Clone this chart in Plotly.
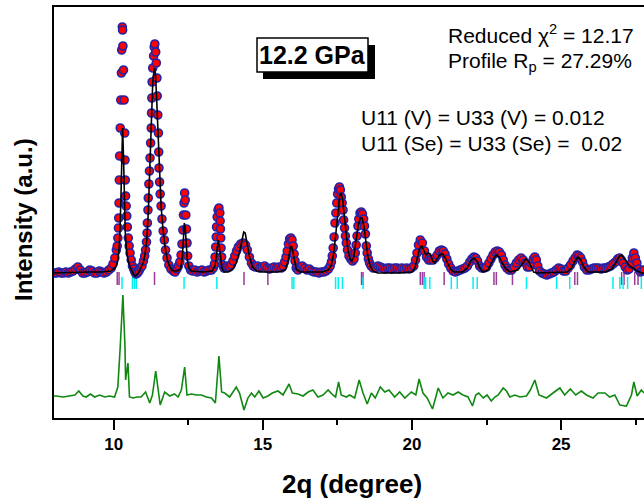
import plotly.graph_objects as go

# ---------------- data ----------------
obs_x = [8.00, 8.08, 8.16, 8.24, 8.32, 8.40, 8.48, 8.56, 8.64, 8.72, 8.80, 8.88, 8.96, 9.04, 9.12, 9.20, 9.28, 9.36, 9.44, 9.52,
         9.60, 9.68, 9.76, 9.84, 9.92, 9.98, 10.04, 10.09, 10.12, 10.14, 10.16, 10.17, 10.18, 10.19, 10.20, 10.22, 10.24, 10.26, 10.27, 10.29,
         10.30, 10.31, 10.33, 10.35, 10.37, 10.38, 10.39, 10.40, 10.42, 10.44, 10.46, 10.49, 10.52, 10.55, 10.59, 10.63, 10.67, 10.71, 10.75, 10.80,
         10.85, 10.90, 10.95, 11.00, 11.04, 11.07, 11.10, 11.12, 11.13, 11.15, 11.16, 11.18, 11.20, 11.22, 11.24, 11.26, 11.27, 11.28, 11.29, 11.31,
         11.34, 11.36, 11.38, 11.41, 11.43, 11.45, 11.46, 11.48, 11.50, 11.51, 11.52, 11.54, 11.56, 11.59, 11.62, 11.66, 11.70, 11.74, 11.79, 11.85,
         11.92, 12.00, 12.06, 12.12, 12.17, 12.22, 12.26, 12.29, 12.32, 12.34, 12.36, 12.38, 12.40, 12.42, 12.44, 12.46, 12.48, 12.52, 12.58, 12.65,
         12.72, 12.80, 12.88, 12.96, 13.04, 13.12, 13.20, 13.28, 13.34, 13.38, 13.40, 13.42, 13.44, 13.45, 13.47, 13.50, 13.53, 13.56, 13.57, 13.58,
         13.59, 13.60, 13.62, 13.65, 13.70, 13.76, 13.82, 13.88, 13.94, 14.00, 14.06, 14.12, 14.18, 14.26, 14.34, 14.42, 14.48, 14.55, 14.62, 14.68,
         14.75, 14.82, 14.90, 14.98, 15.06, 15.14, 15.22, 15.30, 15.38, 15.46, 15.54, 15.62, 15.68, 15.73, 15.78, 15.82, 15.86, 15.90, 15.94, 15.98,
         16.02, 16.05, 16.08, 16.12, 16.18, 16.25, 16.32, 16.40, 16.48, 16.56, 16.64, 16.72, 16.80, 16.88, 16.96, 17.04, 17.12, 17.20, 17.26, 17.30,
         17.33, 17.36, 17.39, 17.42, 17.45, 17.48, 17.51, 17.54, 17.57, 17.60, 17.63, 17.66, 17.69, 17.71, 17.74, 17.77, 17.80, 17.84, 17.89, 17.95,
         18.01, 18.06, 18.10, 18.13, 18.16, 18.19, 18.22, 18.26, 18.30, 18.34, 18.38, 18.41, 18.44, 18.47, 18.50, 18.54, 18.58, 18.63, 18.70, 18.78,
         18.86, 18.94, 19.02, 19.10, 19.18, 19.26, 19.34, 19.42, 19.50, 19.58, 19.66, 19.74, 19.82, 19.90, 19.98, 20.06, 20.12, 20.17, 20.22, 20.28,
         20.35, 20.42, 20.49, 20.56, 20.63, 20.71, 20.78, 20.85, 20.92, 20.99, 21.05, 21.11, 21.17, 21.23, 21.30, 21.38, 21.46, 21.54, 21.62, 21.70,
         21.78, 21.86, 21.94, 22.01, 22.08, 22.14, 22.20, 22.27, 22.34, 22.42, 22.50, 22.58, 22.65, 22.72, 22.79, 22.86, 22.93, 23.00, 23.06, 23.12,
         23.18, 23.26, 23.34, 23.42, 23.50, 23.58, 23.66, 23.73, 23.80, 23.87, 23.94, 24.01, 24.07, 24.12, 24.17, 24.22, 24.28, 24.36, 24.44, 24.52,
         24.60, 24.68, 24.76, 24.84, 24.92, 25.00, 25.08, 25.16, 25.24, 25.32, 25.40, 25.47, 25.54, 25.60, 25.66, 25.72, 25.78, 25.86, 25.94, 26.02,
         26.10, 26.18, 26.26, 26.34, 26.42, 26.50, 26.58, 26.66, 26.74, 26.82, 26.90, 26.96, 27.02, 27.08, 27.15, 27.22, 27.28, 27.34, 27.39, 27.44,
         27.49, 27.54, 27.60, 27.66, 27.72, 27.78]
obs_y = [145, 145, 146, 145, 145, 146, 145, 146, 147, 149, 151, 148, 145, 145, 146, 148, 147, 145, 145, 147,
         146, 145, 146, 148, 150, 154, 160, 168, 172, 180, 190, 200, 215, 238, 262, 290, 318, 345, 368, 391,
         388, 372, 348, 318, 285, 258, 238, 222, 212, 202, 191, 180, 172, 165, 158, 152, 149, 146, 144, 145,
         147, 150, 152, 157, 162, 168, 176, 185, 195, 208, 220, 234, 247, 260, 275, 290, 305, 320, 336, 350,
         362, 371, 374, 366, 355, 340, 322, 303, 285, 266, 250, 236, 224, 212, 199, 187, 178, 168, 160, 153,
         149, 147, 146, 149, 152, 156, 163, 174, 188, 203, 215, 225, 218, 203, 189, 175, 162, 152, 148, 147,
         148, 146, 147, 148, 146, 147, 148, 148, 150, 154, 161, 171, 181, 191, 201, 208, 210, 205, 197, 189,
         180, 170, 161, 153, 150, 151, 152, 151, 153, 157, 162, 167, 171, 174, 175, 173, 168, 161, 155, 152,
         151, 152, 150, 151, 152, 150, 149, 150, 151, 150, 151, 150, 152, 156, 161, 167, 174, 179, 180, 178,
         172, 164, 157, 150, 148, 150, 152, 150, 148, 149, 147, 146, 146, 145, 146, 146, 147, 149, 152, 156,
         162, 170, 181, 195, 205, 215, 224, 229, 231, 228, 221, 215, 208, 198, 190, 182, 175, 168, 162, 159,
         157, 159, 165, 173, 182, 192, 199, 205, 206, 204, 199, 192, 184, 172, 165, 159, 155, 152, 150, 150,
         152, 151, 150, 149, 150, 150, 149, 150, 150, 149, 150, 149, 150, 149, 150, 152, 158, 165, 173, 178,
         175, 167, 161, 158, 158, 158, 160, 163, 167, 168, 167, 164, 159, 154, 150, 147, 146, 147, 148, 149,
         150, 152, 156, 159, 161, 160, 157, 152, 150, 150, 151, 155, 159, 163, 166, 167, 166, 163, 158, 153,
         150, 148, 148, 151, 155, 158, 160, 158, 155, 151, 151, 155, 159, 161, 158, 152, 147, 145, 144, 143,
         144, 145, 146, 148, 150, 149, 147, 147, 150, 153, 157, 160, 163, 162, 160, 156, 151, 148, 148, 149,
         150, 150, 150, 149, 150, 150, 151, 152, 154, 156, 159, 160, 158, 155, 151, 148, 149, 154, 160, 165,
         160, 155, 149, 146, 147, 148]

calc_x = [8.0, 8.8, 9.2, 9.6, 9.9, 10.05, 10.12, 10.17, 10.21, 10.24, 10.27, 10.30, 10.33, 10.36, 10.39, 10.43, 10.48, 10.54, 10.60, 10.66,
          10.72, 10.78, 10.85, 10.92, 11.00, 11.06, 11.11, 11.16, 11.21, 11.26, 11.31, 11.36, 11.40, 11.44, 11.49, 11.54, 11.59, 11.65, 11.72, 11.80,
          11.90, 12.00, 12.15, 12.25, 12.30, 12.34, 12.37, 12.40, 12.43, 12.47, 12.52, 12.60, 13.00, 13.30, 13.40, 13.45, 13.49, 13.51, 13.54, 13.58,
          13.63, 13.70, 13.85, 14.00, 14.12, 14.22, 14.30, 14.36, 14.41, 14.47, 14.55, 14.65, 14.80, 15.00, 15.50, 15.75, 15.85, 15.92, 15.96, 16.00,
          16.05, 16.12, 16.25, 17.00, 17.20, 17.30, 17.38, 17.45, 17.52, 17.58, 17.63, 17.68, 17.73, 17.79, 17.86, 17.93, 17.99, 18.05, 18.12, 18.20,
          18.27, 18.33, 18.39, 18.45, 18.52, 18.60, 18.70, 18.85, 19.50, 20.00, 20.10, 20.18, 20.26, 20.33, 20.40, 20.47, 20.55, 20.62, 20.70, 20.76,
          20.84, 20.93, 21.03, 21.12, 21.22, 21.32, 21.42, 21.70, 21.85, 21.97, 22.08, 22.18, 22.28, 22.38, 22.55, 22.65, 22.75, 22.84, 22.93, 23.03,
          23.15, 23.30, 23.55, 23.70, 23.82, 23.92, 24.00, 24.08, 24.20, 25.20, 25.35, 25.47, 25.57, 25.66, 25.76, 25.90, 26.50, 26.70, 26.85, 26.96,
          27.03, 27.10, 27.20, 27.30, 27.40, 27.55, 27.70, 27.78]
calc_y = [145, 146, 146, 146, 147, 150, 155, 165, 185, 215, 260, 290, 262, 215, 185, 168, 158, 152, 147, 144,
          142, 143, 146, 150, 156, 165, 178, 205, 245, 295, 335, 350, 345, 320, 280, 240, 212, 190, 172, 158,
          150, 147, 147, 150, 160, 180, 195, 190, 175, 158, 150, 147, 146, 147, 152, 162, 175, 178, 172, 160,
          150, 146, 146, 149, 156, 166, 178, 186, 185, 176, 162, 151, 147, 146, 146, 148, 157, 170, 172, 168,
          158, 149, 146, 146, 148, 153, 165, 185, 208, 222, 225, 218, 203, 183, 167, 159, 157, 161, 175, 193,
          200, 200, 192, 177, 162, 152, 147, 145, 145, 146, 150, 160, 170, 172, 168, 163, 165, 164, 157, 155,
          159, 163, 164, 160, 153, 148, 146, 146, 150, 157, 160, 157, 150, 146, 148, 154, 160, 163, 161, 155,
          149, 146, 148, 154, 159, 156, 150, 146, 145, 146, 150, 157, 161, 158, 151, 146, 146, 149, 156, 162,
          163, 160, 155, 152, 150, 147, 145, 145]

diff_x = [8.00, 8.08, 8.31, 8.53, 8.70, 8.83, 8.97, 9.08, 9.22, 9.36, 9.53, 9.70, 9.86, 10.03, 10.14, 10.22, 10.31, 10.38, 10.40, 10.48,
          10.53, 10.65, 10.78, 10.92, 11.07, 11.21, 11.30, 11.41, 11.49, 11.56, 11.71, 11.88, 12.04, 12.16, 12.27, 12.38, 12.46, 12.61, 12.77, 12.94,
          13.11, 13.28, 13.41, 13.53, 13.62, 13.72, 13.89, 13.98, 14.11, 14.22, 14.37, 14.50, 14.62, 14.73, 14.87, 15.01, 15.17, 15.32, 15.51, 15.68,
          15.88, 15.99, 16.18, 16.35, 16.52, 16.68, 16.85, 17.02, 17.19, 17.35, 17.44, 17.54, 17.63, 17.80, 17.91, 18.08, 18.23, 18.36, 18.50, 18.64,
          18.77, 18.94, 19.09, 19.23, 19.42, 19.59, 19.76, 19.98, 20.13, 20.24, 20.37, 20.51, 20.69, 20.80, 20.88, 21.04, 21.21, 21.38, 21.55, 21.71,
          21.88, 22.03, 22.14, 22.24, 22.39, 22.52, 22.66, 22.78, 22.89, 23.06, 23.17, 23.28, 23.45, 23.62, 23.84, 23.97, 24.12, 24.26, 24.51, 24.73,
          24.96, 25.12, 25.31, 25.49, 25.68, 25.85, 26.07, 26.24, 26.47, 26.63, 26.80, 26.97, 27.19, 27.36, 27.44, 27.55, 27.69, 27.78]
diff_y = [22, 22, 21, 22, 23, 27, 22, 21, 24, 21, 23, 21, 22, 21, 31, 71, 123, 71, 38, 55,
          21, 20, 21, 21, 26, 15, 23, 47, 28, 13, 26, 22, 24, 21, 28, 51, 23, 24, 23, 23,
          21, 20, 15, 62, 26, 25, 21, 25, 31, 25, 8, 20, 25, 21, 27, 20, 22, 25, 27, 23,
          34, 25, 24, 22, 26, 28, 21, 23, 28, 23, 21, 36, 23, 21, 23, 20, 38, 25, 14, 25,
          20, 31, 26, 28, 21, 26, 20, 26, 23, 39, 25, 20, 9, 21, 30, 20, 25, 23, 26, 23,
          21, 12, 23, 25, 20, 23, 17, 21, 23, 30, 27, 21, 23, 21, 22, 28, 38, 23, 20, 25,
          30, 23, 29, 23, 27, 23, 20, 25, 25, 21, 23, 13, 12, 23, 36, 22, 28, 25]

# Bragg reflection positions (2theta) for the two phases
ticks_phase1 = [10.12, 10.18, 11.37, 14.37, 15.17, 18.31, 18.36, 20.28, 20.35, 20.41, 21.08, 22.75, 22.83, 23.37,
                25.46, 25.55, 27.03, 27.11, 27.47, 27.58]
ticks_phase2 = [10.28, 10.63, 10.70, 10.76, 12.36, 13.46, 15.98, 16.04, 17.44, 17.53, 17.67, 18.36, 20.41, 20.46,
                20.60, 21.32, 21.52, 22.05, 22.19, 23.84, 24.85, 25.29, 26.74, 26.97, 27.08, 27.23, 27.69]

x_tickvals = [10, 15, 20, 25]
x_minor_tickvals = [12.5, 17.5, 22.5, 27.5]

# ---------------- figure ----------------
W, H = 644, 502
L, R, T, B = 54, 0, 7, 84
PW, PH = W - L - R, H - T - B


def px(xp):
    return (xp - L) / PW


def py(yp):
    return (H - B - yp) / PH


def seg(vals, y0, y1):
    xs, ys = [], []
    for v in vals:
        xs += [v, v, None]
        ys += [y0, y1, None]
    return xs, ys


FONT = "Liberation Sans, Arial, sans-serif"

fig = go.Figure()

tx, ty = seg(ticks_phase1, 133, 146)
fig.add_trace(go.Scatter(x=tx, y=ty, mode="lines", line=dict(color="#9a3c9a", width=1.5),
                         hoverinfo="skip", showlegend=False))
tx, ty = seg(ticks_phase2, 129, 141)
fig.add_trace(go.Scatter(x=tx, y=ty, mode="lines", line=dict(color="#00f0f0", width=1.5),
                         hoverinfo="skip", showlegend=False))

fig.add_trace(go.Scatter(x=obs_x, y=obs_y, mode="markers",
                         marker=dict(size=8, color="#ff0000", line=dict(color="#2323a8", width=1.6)),
                         showlegend=False))
fig.add_trace(go.Scatter(x=calc_x, y=calc_y, mode="lines", line=dict(color="#000000", width=1.6),
                         showlegend=False))
fig.add_trace(go.Scatter(x=diff_x, y=diff_y, mode="lines", line=dict(color="#118811", width=1.6),
                         showlegend=False))

fig.update_layout(
    width=W, height=H,
    margin=dict(l=L, r=R, t=T, b=B, pad=0),
    paper_bgcolor="white", plot_bgcolor="white",
    font=dict(family=FONT, color="black"),
    showlegend=False,
)

fig.update_xaxes(
    range=[8, 27.78], showgrid=False, zeroline=False,
    showline=True, linecolor="black", linewidth=2, mirror=True,
    tickmode="array", tickvals=x_tickvals, ticktext=[str(v) for v in x_tickvals],
    ticks="outside", ticklen=10, tickwidth=2, tickcolor="black",
    tickfont=dict(family=FONT, size=17, weight="bold", color="black"),
    minor=dict(tickvals=x_minor_tickvals, ticks="outside", ticklen=5, tickwidth=2, tickcolor="black"),
)
fig.update_yaxes(
    range=[0, 411], showgrid=False, zeroline=False,
    showline=True, linecolor="black", linewidth=2, mirror=False,
    showticklabels=False, ticks="",
)

# boxed pressure label with drop shadow
fig.add_shape(type="rect", xref="paper", yref="paper",
              x0=px(263), x1=px(375), y0=py(79), y1=py(45),
              fillcolor="black", line=dict(width=0))
fig.add_shape(type="rect", xref="paper", yref="paper",
              x0=px(257), x1=px(368), y0=py(72), y1=py(38),
              fillcolor="white", line=dict(color="black", width=1.5))

annots = [
    dict(text="<b>12.2 GPa</b>", x=px(312.5), y=py(55), xanchor="center", yanchor="middle", font=dict(size=25)),
    dict(text="Reduced χ<sup>2</sup> = 12.17", x=px(446), y=py(34), xanchor="left", yanchor="middle", font=dict(size=21)),
    dict(text="Profile R<sub>p</sub> = 27.29%", x=px(446), y=py(62), xanchor="left", yanchor="middle", font=dict(size=21)),
    dict(text="U11 (V) = U33 (V) = 0.012", x=px(359), y=py(117), xanchor="left", yanchor="middle", font=dict(size=21)),
    dict(text="U11 (Se) = U33 (Se) = \u00a00.02", x=px(359), y=py(143), xanchor="left", yanchor="middle", font=dict(size=21)),
    dict(text="<b>2q (degree)</b>", x=px(352), y=py(484), xanchor="center", yanchor="middle", font=dict(size=26)),
    dict(text="<b>Intensity (a.u.)</b>", x=px(24), y=py(220), xanchor="center", yanchor="middle",
         textangle=-90, font=dict(size=24)),
]
for a in annots:
    a.update(xref="paper", yref="paper", showarrow=False)
    a["font"] = dict(family=FONT, color="black", **a["font"])
    fig.add_annotation(**a)

fig.write_html(
    "out.html",
    config={"displayModeBar": False},
    post_script="document.body.style.margin='0px';document.body.style.overflow='hidden';",
)
